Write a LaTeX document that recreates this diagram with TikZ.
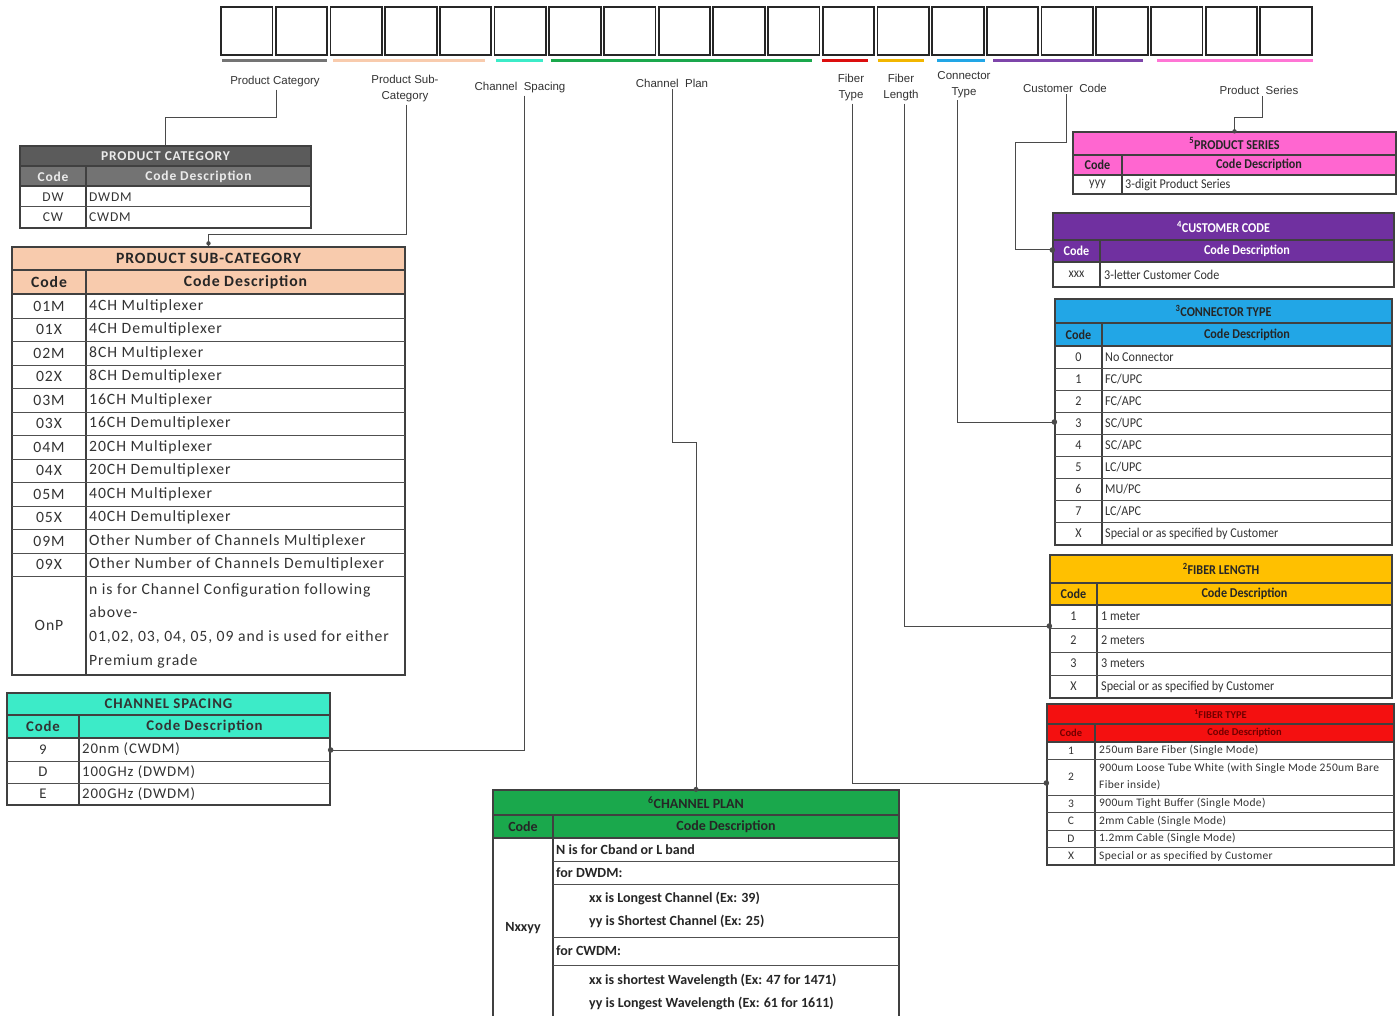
\documentclass[tikz,border=0pt]{standalone}
\usepackage{fontspec}
\setmainfont{Carlito}
\newfontfamily\lab{Liberation Sans}
\newfontfamily\cnd[FakeStretch=0.9]{Carlito}
\newfontfamily\lsp[LetterSpace=6]{Carlito}
\newfontfamily\lsq[LetterSpace=3]{Carlito}
\usetikzlibrary{fit,calc}
\definecolor{tl}{HTML}{404040}
\definecolor{rl}{HTML}{505050}
\definecolor{txt}{HTML}{333333}
\definecolor{cn}{HTML}{4A4A4A}
\definecolor{cgray}{HTML}{5B5B5B}
\definecolor{cgrayh}{HTML}{737373}
\definecolor{cpeach}{HTML}{F8CBAD}
\definecolor{cteal}{HTML}{3CEBC8}
\definecolor{cgreen}{HTML}{1AA84C}
\definecolor{cred}{HTML}{F41010}
\definecolor{cgold}{HTML}{FFC000}
\definecolor{cblue}{HTML}{22A6E6}
\definecolor{cpurple}{HTML}{7030A0}
\definecolor{cpink}{HTML}{FF66D0}
\newcommand\tframe[9]{%
  \fill[#9] (#2,#5) rectangle (#4,#6);
  \fill[hd] (#2,#6) rectangle (#4,#7);
  \draw[tline] (#2,#6) -- (#4,#6) (#2,#7) -- (#4,#7) (#3,#6) -- (#3,#8);
  \path (#2,#5) coordinate (#1-nw) (#4,#8) coordinate (#1-se);
  \node[fit=(#1-nw)(#1-se), inner sep=0pt, draw=tl, line width=1.3pt] (#1) {};
}
\begin{document}
\begin{tikzpicture}[x=1pt,y=-1pt,
  tline/.style={draw=tl, line width=1.1pt},
  rline/.style={draw=rl, line width=1pt},
  topbox/.style={draw=black!85, line width=1.8pt, minimum width=51.5pt, minimum height=48pt, inner sep=0pt},
  bar/.style={line width=3pt},
  lbl/.style={font=\lab\fontsize{11.5}{16}\selectfont, text=txt, align=center, inner sep=2pt},
  conn/.style={draw=cn, line width=1pt},
  dot/.style={fill=cn},
  t/.style={inner sep=0pt, text=txt},
  pc/.style={t, font=\lsp\fontsize{13.5}{15}\selectfont},
  pch/.style={t, font=\lsp\bfseries\fontsize{13.5}{15}\selectfont, text=white!92!black},
  sc/.style={t, font=\lsp\fontsize{15.7}{19}\selectfont},
  sch/.style={t, font=\lsp\bfseries\fontsize{15.7}{19}\selectfont, text=black!85},
  cs/.style={t, font=\lsp\fontsize{14.8}{17}\selectfont},
  csh/.style={t, font=\lsp\bfseries\fontsize{14.8}{17}\selectfont, text=black!80},
  rt/.style={t, font=\cnd\fontsize{13.5}{16}\selectfont},
  rth/.style={t, font=\cnd\bfseries\fontsize{13.5}{16}\selectfont},
  ft/.style={t, font=\lsq\fontsize{11.5}{17}\selectfont},
  fth/.style={t, font=\bfseries\fontsize{10.5}{13}\selectfont, text=red!45!black},
  cp/.style={t, font=\bfseries\fontsize{14}{17}\selectfont, text=black!85},
]
\useasboundingbox (0,0) rectangle (1399,1016);
\fill[white] (0,0) rectangle (1399,1016);

% ---- top code boxes ----
\foreach \i in {0,...,19} \node[topbox] (b\i) at ({221+54.7*\i+25.75},31) {};
\draw[bar, color=cgray!85] (222,61) -- (327,61);
\draw[bar, color=cpeach] (333,61) -- (485,61);
\draw[bar, color=cteal] (496,61) -- (543,61);
\draw[bar, color=cgreen] (551,61) -- (812,61);
\draw[bar, color=cred!90!black] (822,61) -- (868,61);
\draw[bar, color=cgold!95!black] (878,61) -- (924,61);
\draw[bar, color=cblue] (937,61) -- (985,61);
\draw[bar, color=cpurple!90] (993,61) -- (1143,61);
\draw[bar, color=cpink!90] (1157,61) -- (1313,61);

% ---- labels ----
\node[lbl] (lpc) at (275,82) {Product Category};
\node[lbl] (lpsc) at (405,89) {Product Sub-\\Category};
\node[lbl] (lcs) at (520,88) {Channel\ \ Spacing};
\node[lbl] (lcp) at (672,83) {Channel\ \ Plan};
\node[lbl] (lft) at (851,88) {Fiber\\Type};
\node[lbl] (lfl) at (901,88) {Fiber\\Length};
\node[lbl] (lct) at (964,85) {Connector\\Type};
\node[lbl] (lcc) at (1065,88) {Customer\ \ Code};
\node[lbl] (lps) at (1259,90) {Product\ \ Series};

% ---- PRODUCT CATEGORY ----
\colorlet{hd}{cgrayh}
\tframe{pcat}{20}{86}{311}{146}{166}{186}{228}{cgray}
\draw[rline] (20,207) -- (311,207);
\node[pch] (pcat-t) at (165.5,156) {PRODUCT CATEGORY};
\node[pch] (pcat-h1) at (53,176.5) {Code};
\node[pch] (pcat-h2) at (198.5,176.5) {Code Description};
\node[pc] (pcat-c1) at (53,197) {DW};
\node[pc, anchor=west] (pcat-d1) at (89,197) {DWDM};
\node[pc] (pcat-c2) at (53,217.5) {CW};
\node[pc, anchor=west] (pcat-d2) at (89,217.5) {CWDM};

% ---- PRODUCT SUB-CATEGORY ----
\colorlet{hd}{cpeach}
\tframe{subcat}{12}{86}{405}{247}{270}{294}{675}{cpeach}
\foreach \yy in {318,341,365,388,412,435,459,482,506,529,553,576} \draw[rline] (12,\yy) -- (405,\yy);
\node[sch] (subcat-t) at (208.5,258.5) {PRODUCT SUB-CATEGORY};
\node[sch] (subcat-h1) at (49,282) {Code};
\node[sch] (subcat-h2) at (245.5,282) {Code Description};
\foreach \c/\d/\yy [count=\k] in {01M/4CH Multiplexer/306, 01X/4CH Demultiplexer/329.5, 02M/8CH Multiplexer/353, 02X/8CH Demultiplexer/376.5, 03M/16CH Multiplexer/400, 03X/16CH Demultiplexer/423.5, 04M/20CH Multiplexer/447, 04X/20CH Demultiplexer/470.5, 05M/40CH Multiplexer/494, 05X/40CH Demultiplexer/517.5, 09M/Other Number of Channels Multiplexer/541, 09X/Other Number of Channels Demultiplexer/564.5} {
  \node[sc] (subcat-c\k) at (49,\yy) {\c};
  \node[sc, anchor=west] (subcat-d\k) at (89,\yy) {\d};
}
\node[sc] (subcat-c13) at (49,625.5) {OnP};
\node[sc, anchor=west, align=left, font=\lsp\fontsize{15.7}{23.6}\selectfont] (subcat-d13) at (89,625.5) {n is for Channel Configuration following\\above-\\01,02, 03, 04, 05, 09 and is used for either\\Premium grade};

% ---- CHANNEL SPACING ----
\colorlet{hd}{cteal}
\tframe{cspace}{7}{79}{330}{693}{715}{738}{805}{cteal}
\foreach \yy in {761,783} \draw[rline] (7,\yy) -- (330,\yy);
\node[csh] (cspace-t) at (168.5,704) {CHANNEL SPACING};
\node[csh] (cspace-h1) at (43,726.5) {Code};
\node[csh] (cspace-h2) at (204.5,726.5) {Code Description};
\foreach \c/\d/\yy [count=\k] in {9/20nm (CWDM)/749.5, D/100GHz (DWDM)/772, E/200GHz (DWDM)/794} {
  \node[cs] (cspace-c\k) at (43,\yy) {\c};
  \node[cs, anchor=west] (cspace-d\k) at (82,\yy) {\d};
}

% ---- CHANNEL PLAN ----
\colorlet{hd}{cgreen}
\tframe{plan}{493}{553}{899}{790}{815}{838}{1024}{cgreen}
\foreach \yy in {861,884,937,965} \draw[rline] (553,\yy) -- (899,\yy);
\node[cp] (plan-t) at (696,802.5) {\textsuperscript{6}CHANNEL PLAN};
\node[cp] (plan-h1) at (523,826.5) {Code};
\node[cp] (plan-h2) at (726,826.5) {Code Description};
\node[cp] (plan-c1) at (523,928) {Nxxyy};
\node[cp, anchor=west] (plan-d1) at (556,849.5) {N is for Cband or L band};
\node[cp, anchor=west] (plan-d2) at (556,872.5) {for DWDM:};
\node[cp, anchor=west] (plan-d3) at (589,898) {xx is Longest Channel (Ex: 39)};
\node[cp, anchor=west] (plan-d4) at (589,921) {yy is Shortest Channel (Ex: 25)};
\node[cp, anchor=west] (plan-d5) at (556,951) {for CWDM:};
\node[cp, anchor=west] (plan-d6) at (589,980) {xx is shortest Wavelength (Ex: 47 for 1471)};
\node[cp, anchor=west] (plan-d7) at (589,1003) {yy is Longest Wavelength (Ex: 61 for 1611)};

% ---- PRODUCT SERIES ----
\colorlet{hd}{cpink}
\tframe{series}{1073}{1122}{1396}{132}{155}{175}{194}{cpink}
\node[rth, text=black!85] (series-t) at (1234.5,143.5) {\textsuperscript{5}PRODUCT SERIES};
\node[rth, text=black!85] (series-h1) at (1097.5,165) {Code};
\node[rth, text=black!85] (series-h2) at (1259,165) {Code Description};
\node[rt] (series-c1) at (1097.5,184.5) {yyy};
\node[rt, anchor=west] (series-d1) at (1125,184.5) {3-digit Product Series};

% ---- CUSTOMER CODE ----
\colorlet{hd}{cpurple}
\tframe{cust}{1053}{1100}{1394}{213}{240}{262}{287}{cpurple}
\node[rth, text=white] (cust-t) at (1223.5,227) {\textsuperscript{4}CUSTOMER CODE};
\node[rth, text=white] (cust-h1) at (1076.5,251) {Code};
\node[rth, text=white] (cust-h2) at (1247,251) {Code Description};
\node[rt] (cust-c1) at (1076.5,274.5) {xxx};
\node[rt, anchor=west] (cust-d1) at (1104,274.5) {3-letter Customer Code};

% ---- CONNECTOR TYPE ----
\colorlet{hd}{cblue}
\tframe{conn}{1055}{1102}{1392}{299}{323}{346}{545}{cblue}
\foreach \yy in {368,390,412,434,456,478,500,522} \draw[rline] (1055,\yy) -- (1392,\yy);
\node[rth, text=black!85] (conn-t) at (1223.5,311) {\textsuperscript{3}CONNECTOR TYPE};
\node[rth, text=black!85] (conn-h1) at (1078.5,334.5) {Code};
\node[rth, text=black!85] (conn-h2) at (1247,334.5) {Code Description};
\foreach \c/\d/\yy [count=\k] in {0/No Connector/357, 1/FC\slash UPC/379, 2/FC\slash APC/401, 3/SC\slash UPC/423, 4/SC\slash APC/445, 5/LC\slash UPC/467, 6/MU\slash PC/489, 7/LC\slash APC/511, X/Special or as specified by Customer/533.5} {
  \node[rt] (conn-c\k) at (1078.5,\yy) {\c};
  \node[rt, anchor=west] (conn-d\k) at (1105,\yy) {\d};
}

% ---- FIBER LENGTH ----
\colorlet{hd}{cgold}
\tframe{flen}{1050}{1097}{1392}{555}{583}{605}{698}{cgold}
\foreach \yy in {628,652,675} \draw[rline] (1050,\yy) -- (1392,\yy);
\node[rth, text=black!85] (flen-t) at (1221,569) {\textsuperscript{2}FIBER LENGTH};
\node[rth, text=black!85] (flen-h1) at (1073.5,594) {Code};
\node[rth, text=black!85] (flen-h2) at (1244.5,594) {Code Description};
\foreach \c/\d/\yy [count=\k] in {1/1 meter/616.5, 2/2 meters/640, 3/3 meters/663.5, X/Special or as specified by Customer/686.5} {
  \node[rt] (flen-c\k) at (1073.5,\yy) {\c};
  \node[rt, anchor=west] (flen-d\k) at (1101,\yy) {\d};
}

% ---- FIBER TYPE ----
\colorlet{hd}{cred}
\tframe{ftype}{1047}{1095}{1394}{704}{724}{742}{865}{cred}
\foreach \yy in {759,795,812,830,847} \draw[rline] (1047,\yy) -- (1394,\yy);
\node[fth] (ftype-t) at (1220.5,714) {\textsuperscript{1}FIBER TYPE};
\node[fth] (ftype-h1) at (1071,733) {Code};
\node[fth] (ftype-h2) at (1244.5,733) {Code Description};
\foreach \c/\d/\yy [count=\k] in {1/250um Bare Fiber (Single Mode)/750.5, 3/900um Tight Buffer (Single Mode)/803.5, C/2mm Cable (Single Mode)/821, D/1.2mm Cable (Single Mode)/838.5, X/Special or as specified by Customer/856} {
  \node[ft] (ftype-c\k) at (1071,\yy) {\c};
  \node[ft, anchor=west] (ftype-d\k) at (1099,\yy) {\d};
}
\node[ft] (ftype-c6) at (1071,777) {2};
\node[ft, anchor=west, align=left] (ftype-d6) at (1099,777) {900um Loose Tube White (with Single Mode 250um Bare\\Fiber inside)};

% ---- connectors ----
\coordinate (pc1) at (276,118);
\draw[conn] (lpc.south -| pc1) -- (pc1) -| (pcat.north);
\coordinate (sc1) at (406,235);
\draw[conn] (lpsc.south -| sc1) -- (sc1) -| (subcat.north);
\fill[dot] (subcat.north) ++(0,-3) circle[radius=2.2pt];
\coordinate (cs1) at (524,750);
\draw[conn] (lcs.south -| cs1) -- (cs1) -- (cspace.east |- cs1);
\fill[dot] (cspace.east |- cs1) circle[radius=2.8pt];
\coordinate (cp1) at (672,442);
\draw[conn] (lcp.south -| cp1) -- (cp1) -| (plan.north);
\fill[dot] (plan.north) circle[radius=2.5pt];
\coordinate (ft1) at (852,783);
\draw[conn] (lft.south -| ft1) -- (ft1) -- (ftype.west |- ft1);
\fill[dot] (ftype.west |- ft1) circle[radius=2.8pt];
\coordinate (fl1) at (904,626);
\draw[conn] (lfl.south -| fl1) -- (fl1) -- (flen.west |- fl1);
\fill[dot] (flen.west |- fl1) circle[radius=2.8pt];
\coordinate (ct1) at (957,422);
\draw[conn] (lct.south -| ct1) -- (ct1) -- (conn.west |- ct1);
\fill[dot] (conn.west |- ct1) circle[radius=2.8pt];
\coordinate (cc1) at (1066,143);
\coordinate (cc2) at (1015,250);
\draw[conn] (lcc.south -| cc1) -- (cc1) -| (cc2) -- (cust.west |- cc2);
\fill[dot] (cust.west |- cc2) circle[radius=2.8pt];
\coordinate (ps1) at (1262,118);
\draw[conn] (lps.south -| ps1) -- (ps1) -| (series.north);
\fill[dot] (series.north) circle[radius=2.2pt];
\end{tikzpicture}
\end{document}
